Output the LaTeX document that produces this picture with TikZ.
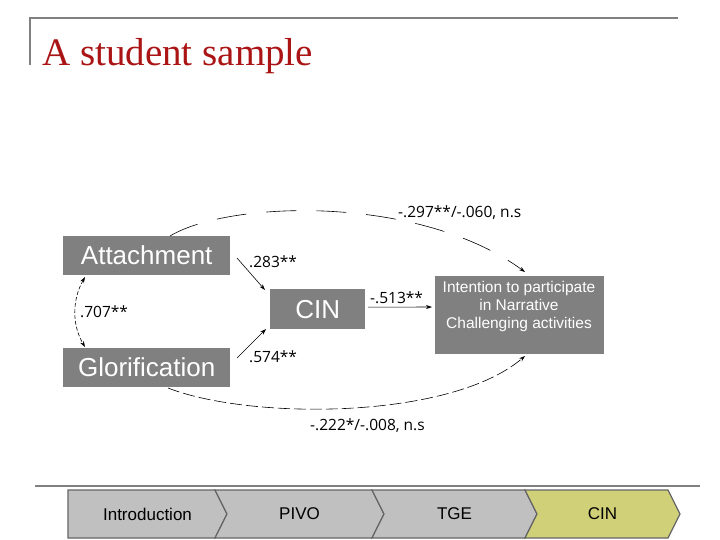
\documentclass[tikz,border=0pt]{standalone}
\usepackage{fontspec}
\setmainfont{Liberation Serif}
\newfontfamily\arial{Liberation Sans}
\newfontfamily\lab{Open Sans}
\usetikzlibrary{arrows.meta}
\definecolor{boxg}{RGB}{128,128,128}
\definecolor{titred}{RGB}{170,20,20}
\definecolor{chev}{RGB}{192,192,192}
\definecolor{chevy}{RGB}{208,208,120}
\begin{document}
\begin{tikzpicture}[x=1pt,y=-1pt,
  box/.style={fill=boxg,text=white,font=\arial,inner sep=0pt,anchor=north west},
  lbl/.style={font=\lab\fontsize{15.5}{18}\selectfont,anchor=west,inner sep=0pt},
  arr/.style={-{Stealth[length=6pt,width=4pt]},line width=0.6pt},
  darr/.style={arr,dash pattern=on 6pt off 2pt},
  chevstyle/.style={draw=black!60,line width=1.2pt}]
\useasboundingbox (0,0) rectangle (720,540);
\draw[gray,line width=1.5pt] (30,65) -- (30,18) -- (678,18);
\node[anchor=base west,text=titred,font=\fontsize{39}{42}\selectfont,inner sep=0pt] (title) at (42,66) {A student sample};
\node[box,minimum width=167pt,minimum height=39pt,font=\arial\fontsize{26}{28}\selectfont] (att) at (63,236) {Attachment};
\node[box,minimum width=167pt,minimum height=39pt,font=\arial\fontsize{26}{28}\selectfont] (glo) at (63,348) {Glorification};
\node[box,minimum width=95pt,minimum height=40pt,font=\arial\fontsize{26}{28}\selectfont] (cin) at (270,289) {CIN};
\node[box,minimum width=169pt,minimum height=78pt,anchor=north west] (int) at (435,276) {};
\node[font=\arial\fontsize{15.5}{18}\selectfont,text=white,align=center,anchor=north,inner sep=0pt] (intt) at (519,281) {Intention to participate\\in Narrative\\Challenging activities};
\coordinate (a1) at (237,258); \coordinate (c1) at (265,290);
\coordinate (g1) at (237,358); \coordinate (c2) at (266,329);
\draw[arr] (a1) -- (c1);
\draw[arr] (g1) -- (c2);
\draw[arr] (cin.east) ++(3,-2) coordinate (c3) -- (432,307) coordinate (i1);
\draw[arr,dash pattern=on 30pt off 20pt] (170,236) .. controls (230,200) and (420,195) .. (525,272);
\draw[arr,dash pattern=on 12pt off 4pt] (168,388) .. controls (250,420) and (450,420) .. (525,356);
\draw[arr,{Stealth[length=6pt,width=4pt]}-{Stealth[length=6pt,width=4pt]},dash pattern=on 4pt off 2pt] (85,277) .. controls (72,300) and (72,325) .. (85,347);
\node[lbl] (l1) at (249,262) {.283**};
\node[lbl] (l2) at (80,312) {.707**};
\node[lbl] (l3) at (370,298) {-.513**};
\node[lbl] (l4) at (249,357) {.574**};
\node[lbl] (l5) at (398,213) {-.297**/-.060, n.s};
\node[lbl] (l6) at (310,426) {-.222*/-.008, n.s};
\draw[gray,line width=1.5pt] (35,486) -- (700,486);
\foreach \xa/\xb/\col/\t/\nm in {68/215/chev/Introduction/ca,215/372/chev/PIVO/cb,372/525/chev/TGE/cc,525/668/chevy/CIN/cd}{
  \ifnum\xa=68
    \draw[chevstyle,fill=\col] (\xa,490) -- (\xb,490) -- (\xb+12,514) -- (\xb,538) -- (\xa,538) -- cycle;
  \else
    \draw[chevstyle,fill=\col] (\xa,490) -- (\xb,490) -- (\xb+12,514) -- (\xb,538) -- (\xa,538) -- (\xa+12,514) -- cycle;
  \fi
  \node[font=\arial\fontsize{17}{19}\selectfont] (\nm) at ({(\xa+\xb)/2+6},514) {\t};
}
\end{tikzpicture}
\end{document}
